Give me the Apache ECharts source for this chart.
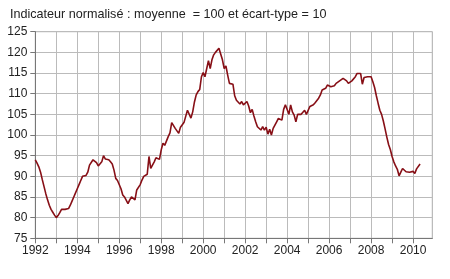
<!DOCTYPE html>
<html><head><meta charset="utf-8">
<script src="https://cdn.jsdelivr.net/npm/echarts@6/dist/echarts.min.js"></script>
<style>html,body{margin:0;padding:0;background:#fff}#c{width:450px;height:279px}</style>
</head><body><div id="c"></div>
<script>
const titleText = 'Indicateur normalisé : moyenne  = 100 et écart-type = 10';
const startYear = 1992, endYear = 2010;
const yMin = 75, yMax = 125, yStep = 5;
// monthly values, Jan 1992 onward
const v1992 = [94, 93.2, 92.3, 91, 89.2, 87.5, 85.8, 84.3, 83, 82, 81.3, 80.6];
const v1993 = [80, 80.5, 81.2, 82, 82, 82, 82, 82.2, 83, 84, 85, 86];
const v1994 = [87, 88, 89, 90, 90, 90.2, 91, 92.7, 92.3, 94, 94, 93.3];
const v1995 = [92.5, 92.2, 93.5, 95, 94.2, 94, 94, 93.5, 93, 91.5, 89.5, 89];
const v1996 = [89, 87, 85.5, 85, 85, 83.4, 84.3, 85, 85.2, 84.3, 86.7, 86.3];
const v1997 = [88, 89.1, 90, 90, 90.5, 94.8, 91.9, 92, 93.5, 94.5, 94.8, 94.1];
const v1998 = [96.4, 98, 97.5, 97.3, 99.6, 100.5, 103, 103.2, 101.6, 102, 100.4, 101.9];
const v1999 = [102.2, 103, 104.5, 106, 106.2, 104.1, 105.6, 108, 109.7, 110.5, 111, 114.1];
const v2000 = [115.1, 114.1, 114, 118, 116.1, 118.2, 119.4, 120, 120.2, 121, 119.6, 118.2];
const v2001 = [116.1, 116.7, 114.5, 112.5, 112.4, 112.3, 109.5, 108.4, 108.1, 107.5, 108.1, 107.3];
const v2002 = [107.3, 108.1, 107, 105.4, 106.2, 104.6, 103.2, 102, 101.6, 101.2, 102, 101.2];
const v2003 = [101.9, 100.2, 101.4, 100, 101.6, 101.9, 103.2, 104, 103.8, 103.6, 106.2, 107.3];
const v2004 = [107, 105, 107.3, 105.6, 104.8, 103.2, 105, 105, 105, 105.2, 106, 105];
const v2005 = [105.2, 106.9, 107.3, 107.3, 107.8, 108.1, 108.9, 109.7, 110.9, 110.5, 111.3, 112.1];
const v2006 = [112.5, 111.7, 111.3, 111.9, 112.5, 112.7, 113.1, 112.9, 113.7, 113.9, 113.1, 112.5];
const v2007 = [112.9, 113.1, 113.3, 114.1, 114.9, 115, 114.9, 112.3, 113.9, 113.5, 114.1, 113.7];
const v2008 = [114.1, 112.9, 111.5, 109.5, 107.7, 106, 105, 103.4, 101.5, 99.5, 97.7, 96.5];
const v2009 = [94.8, 93.5, 92.5, 91.7, 90.1, 91, 91.9, 91.9, 91.1, 91.4, 91, 91.2];
const v2010 = [91.2, 90.7, 91.8, 92.2, 93];

const values = [].concat(v1992, v1993, v1994, v1995, v1996, v1997, v1998, v1999, v2000,
  v2001, v2002, v2003, v2004, v2005, v2006, v2007, v2008, v2009, v2010);
const categories = [];
for (let y = startYear; y <= endYear; y++) {
  for (let m = 1; m <= 12; m++) categories.push(y + '-' + (m < 10 ? '0' + m : m));
}

const chart = echarts.init(document.getElementById('c'), null, {renderer: 'canvas'});
const font = 'Liberation Sans, Arial, sans-serif';
chart.setOption({
  animation: false,
  backgroundColor: '#fff',
  title: {
    text: titleText, left: 5, top: 3,
    textStyle: {fontFamily: font, fontSize: 12.6, fontWeight: 'normal', color: '#222'}
  },
  grid: {left: 35.3, right: 17.7, top: 31.7, bottom: 40.7, show: true, borderColor: '#aaa', borderWidth: 1},
  xAxis: {
    type: 'category', data: categories, boundaryGap: false,
    axisLine: {show: true, lineStyle: {color: '#777', width: 1}},
    axisTick: {show: true, interval: 11, length: 5, lineStyle: {color: '#777'}},
    axisLabel: {interval: 23, formatter: v => v.slice(0, 4), fontFamily: font, fontSize: 12, color: '#222', margin: 6},
    splitLine: {show: true, interval: 11, lineStyle: {color: '#bbb', width: 1}}
  },
  yAxis: {
    type: 'value', min: yMin, max: yMax, interval: yStep,
    axisLine: {show: true, lineStyle: {color: '#777', width: 1}},
    axisTick: {show: true, length: 5, lineStyle: {color: '#777'}},
    axisLabel: {fontFamily: font, fontSize: 12, color: '#222', margin: 8},
    splitLine: {show: true, lineStyle: {color: '#bbb', width: 1}}
  },
  series: [{
    type: 'line', data: values, showSymbol: false, symbol: 'none',
    lineStyle: {color: '#870f16', width: 1.6}
  }]
});
</script></body></html>
